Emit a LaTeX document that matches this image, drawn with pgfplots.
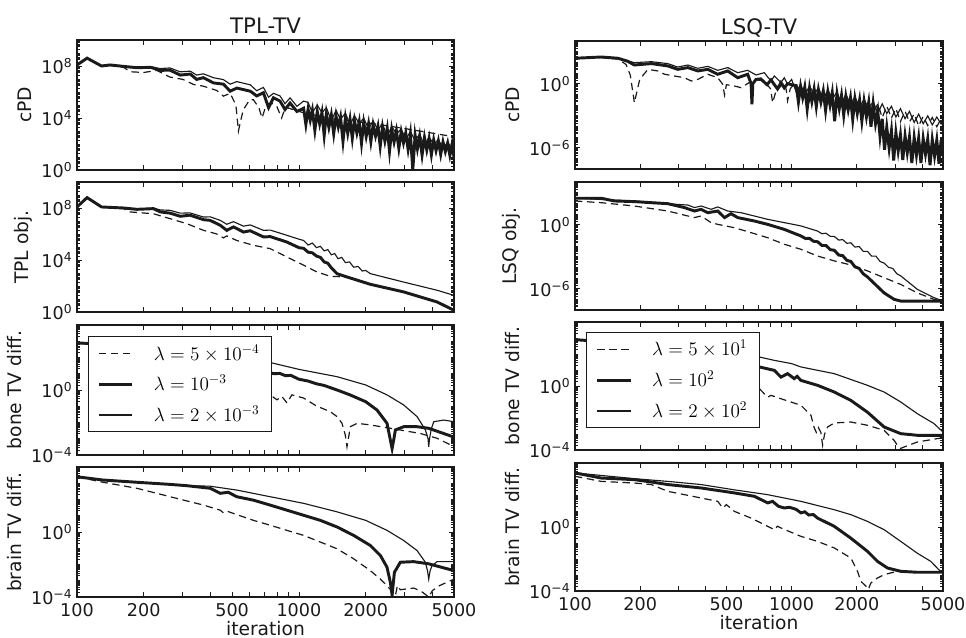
\documentclass[border=0pt]{standalone}
\usepackage{pgfplots}
\pgfplotsset{compat=1.18}
\usepackage{fontspec}
\setmainfont{DejaVu Sans}
\definecolor{ink}{HTML}{1A1A1A}
\newcommand{\tk}[1]{10\textsuperscript{#1}}
\def\minA{2,3,4,5,6,7,8,9,10,20,30,40,50,60,70,80,90,100,200,300,400,500,600,700,800,900,1000,2e3,3e3,4e3,5e3,6e3,7e3,8e3,9e3,1e4,2e4,3e4,4e4,5e4,6e4,7e4,8e4,9e4,1e5,2e5,3e5,4e5,5e5,6e5,7e5,8e5,9e5,1e6,2e6,3e6,4e6,5e6,6e6,7e6,8e6,9e6,1e7,2e7,3e7,4e7,5e7,6e7,7e7,8e7,9e7,1e8,2e8,3e8,4e8,5e8,6e8,7e8,8e8,9e8,1e9,2e9,3e9,4e9,5e9,6e9,7e9,8e9,9e9}
\def\minB{2e-4,3e-4,4e-4,5e-4,6e-4,7e-4,8e-4,9e-4,1e-3,2e-3,3e-3,4e-3,5e-3,6e-3,7e-3,8e-3,9e-3,1e-2,2e-2,3e-2,4e-2,5e-2,6e-2,7e-2,8e-2,9e-2,0.1,0.2,0.3,0.4,0.5,0.6,0.7,0.8,0.9,1,2,3,4,5,6,7,8,9,10,20,30,40,50,60,70,80,90,100,200,300,400,500,600,700,800,900,1000,2e3,3e3,4e3,5e3,6e3,7e3,8e3,9e3}
\def\minC{2e-8,3e-8,4e-8,5e-8,6e-8,7e-8,8e-8,9e-8,1e-7,2e-7,3e-7,4e-7,5e-7,6e-7,7e-7,8e-7,9e-7,1e-6,2e-6,3e-6,4e-6,5e-6,6e-6,7e-6,8e-6,9e-6,1e-5,2e-5,3e-5,4e-5,5e-5,6e-5,7e-5,8e-5,9e-5,1e-4,2e-4,3e-4,4e-4,5e-4,6e-4,7e-4,8e-4,9e-4,1e-3,2e-3,3e-3,4e-3,5e-3,6e-3,7e-3,8e-3,9e-3,1e-2,2e-2,3e-2,4e-2,5e-2,6e-2,7e-2,8e-2,9e-2,0.1,0.2,0.3,0.4,0.5,0.6,0.7,0.8,0.9,1,2,3,4,5,6,7,8,9,10,20,30,40,50,60,70,80,90,100,200,300,400,500,600,700,800,900,1000,2e3,3e3,4e3,5e3,6e3,7e3,8e3,9e3}
\pgfplotsset{
  mypanel/.style={
    scale only axis, anchor=south west,
    xmin=100, xmax=5000,
    xtick={100,200,300,400,500,600,700,800,900,1000,2000,3000,4000,5000},
    xticklabels={},
    tick align=inside,
    major tick length=4pt, minor tick length=2.2pt,
    axis line style={line width=1pt, draw=ink},
    every tick/.style={draw=ink, line width=0.6pt},
    tick label style={font=\fontsize{13.2}{15}\selectfont, text=ink},
    xticklabel style={yshift=-1.5pt},
    label style={font=\fontsize{14}{16}\selectfont, text=ink},
    xlabel style={yshift=4pt},
    title style={font=\fontsize{16}{18}\selectfont, text=ink, anchor=base, yshift=-1.5pt},
    legend cell align=left,
  },
  mylw/.style={width=282.75pt, height=97.5pt},
  myrw/.style={width=276pt, height=96pt},
  mybottom/.style={xticklabels={100,200,,,500,,,,,1000,2000,,,5000}, xlabel={iteration}},
  myya/.style={ymin=1, ymax=1e10, ytick={1,1e4,1e8}, yticklabels={\tk{0},\tk{4},\tk{8}}, minor ytick/.expand once=\minA},
  myyb/.style={ymin=1e-4, ymax=1e4, ytick={1e-4,1}, yticklabels={\tk{−4},\tk{0}}, minor ytick/.expand once=\minB},
  myyc/.style={ymin=1e-8, ymax=1e4, ytick={1e-6,1}, yticklabels={\tk{−6},\tk{0}}, minor ytick/.expand once=\minC},
  dsh/.style={ink, line width=0.9pt, dash pattern=on 5.5pt off 3.5pt},
  thk/.style={ink, line width=2.2pt},
  thn/.style={ink, line width=0.85pt},
}
\begin{document}
\begin{tikzpicture}
\useasboundingbox (0,0) rectangle (724.5pt,478.5pt);
% ---------------- Left column: TPL-TV ----------------
\begin{loglogaxis}[mypanel, mylw, myya, at={(57.75pt,351pt)}, title={TPL-TV}, ylabel={cPD}]
\addplot[dsh] coordinates {(100,1.2e8)(111,4e8)(129,1e8)(141,1.12e8)(162,7.9e7)(174,3.6e7)(200,3.16e7)(229,4.6e7)(262,1.41e7)(300,9.3e6)(335,3.8e6)(371,2.8e6)(426,1.32e6)(457,4.8e5)(490,7.9e5)(520,1e5)(534,1e3)(550,1e4)(562,4.4e4)(600,2.5e5)(624,2.5e5)(660,6.3e4)(682,1e4)(700,4e4)(717,1.26e5)(760,1.26e5)(795,7.9e4)(836,1e4)(860,4e4)(882,6.3e4)(1050,2.5e4)(1480,7.4e3)(2090,4e3)(2970,1.58e3)(5000,3.6e2)};
\addplot[thk] coordinates {(100,1.2e8)(111,4e8)(129,1e8)(141,1.2e8)(162,9.3e7)(186,7.4e7)(215,7.9e7)(237,4.6e7)(262,4.8e7)(292,2e7)(324,2.4e7)(346,9.3e6)(371,1.26e7)(412,5e6)(457,4e6)(490,1.15e6)(525,2e6)(604,1.15e6)(645,5e5)(692,8.7e5)(730,6.3e4)(768,3.55e5)(822,2e5)(866,4.5e4)(912,1.41e5)(980,3.16e4)(1050,5.6e4)(1075,3.2e3)(1100,4.7e4)(1125,6.8e3)(1150,3.9e4)(1180,1.12e3)(1210,3.16e4)(1240,3.55e3)(1270,2.57e4)(1300,4.7e2)(1330,2.1e4)(1365,1.9e3)(1400,1.7e4)(1435,6.2e2)(1470,1.41e4)(1505,2e3)(1540,1.15e4)(1580,1.62e2)(1620,9.3e3)(1660,6.8e2)(1700,7.8e3)(1740,2.8e2)(1780,6.3e3)(1825,7.1e2)(1870,5.1e3)(1915,1.17e2)(1960,4.3e3)(2010,3.8e2)(2060,3.5e3)(2110,1.58e2)(2160,2.9e3)(2215,4.1e2)(2270,2.3e3)(2325,66)(2380,1.9e3)(2440,1.7e2)(2500,1.55e3)(2560,28)(2620,1.29e3)(2685,1.45e2)(2750,1.05e3)(2820,47)(2890,8.5e2)(2960,1.23e2)(3030,7.1e2)(3105,40)(3180,5.8e2)(3260,1.05)(3340,4.7e2)(3420,43)(3500,3.9e2)(3590,14)(3680,3.16e2)(3770,35)(3860,2.57e2)(3955,15)(4050,2.1e2)(4150,31)(4250,1.74e2)(4355,16)(4460,1.45e2)(4570,26)(4680,1.17e2)(4790,13.5)(4900,98)(4950,30)(5000,89)};
\addplot[thn] coordinates {(100,1.2e8)(111,4e8)(129,1e8)(141,1.2e8)(162,9.3e7)(186,7.4e7)(215,8.9e7)(237,6.3e7)(262,7.1e7)(292,3.55e7)(324,4e7)(346,2e7)(371,2.5e7)(412,1.26e7)(457,8.9e6)(490,4e6)(525,6.3e6)(604,3.55e6)(645,1.26e6)(692,2.24e6)(730,4e5)(768,7.9e5)(822,5e5)(866,1.26e5)(912,3.55e5)(980,7.9e4)(1050,2e5)(1100,1.58e5)(1150,2.57e4)(1210,1e5)(1270,2.5e4)(1330,6.3e4)(1400,6.2e3)(1470,3.9e4)(1540,7.8e3)(1620,2.4e4)(1700,3e3)(1780,1.5e4)(1870,3.8e3)(1960,9.5e3)(2060,1.48e3)(2160,6e3)(2270,1.17e3)(2380,3.7e3)(2500,3.7e2)(2620,2.3e3)(2750,5.8e2)(2890,1.45e3)(3030,2.3e2)(3180,9.1e2)(3340,1.78e2)(3500,5.8e2)(3680,71)(3860,3.55e2)(4050,89)(4250,2.2e2)(4460,44)(4680,1.38e2)(4900,44)(5000,1e2)};
\end{loglogaxis}
\begin{loglogaxis}[mypanel, mylw, myya, at={(57.75pt,244.5pt)}, ylabel={TPL obj.}]
\addplot[dsh] coordinates {(100,1.2e8)(111,6.3e8)(129,1.2e8)(162,8.9e7)(173,5e7)(221,3.6e7)(263,1.5e7)(312,6.3e6)(372,1.9e6)(427,1e6)(457,5e5)(473,7.1e5)(525,3.16e5)(624,1.35e5)(743,7.4e4)(883,1.7e4)(1050,4e3)(1205,1.2e3)(1384,5.6e2)(1650,4.9e2)(2098,1.35e2)(2966,35)(4195,5.9)(5000,1.35)};
\addplot[thk] coordinates {(100,1.2e8)(111,6.3e8)(129,1.2e8)(162,1e8)(186,7.9e7)(221,8.9e7)(237,5e7)(263,4e7)(292,2.3e7)(323,2.8e7)(372,1.26e7)(398,1.12e7)(442,4.7e6)(473,1.9e6)(507,3.5e6)(563,1.41e6)(603,1.78e6)(693,5.9e5)(743,6.3e5)(883,2.4e5)(1000,8.9e4)(1050,7.9e4)(1100,4e4)(1150,3.55e4)(1200,2e4)(1250,1.58e4)(1300,7.1e3)(1350,5.6e3)(1400,2.5e3)(1485,8.9e2)(1650,4.9e2)(2098,1.35e2)(2966,35)(4195,5.9)(5000,1.35)};
\addplot[thn] coordinates {(100,1.2e8)(111,6.3e8)(129,1.2e8)(162,1e8)(186,7.9e7)(221,1e8)(237,7.1e7)(263,6.6e7)(292,4e7)(323,4.2e7)(372,2e7)(398,2.1e7)(442,1.12e7)(473,5.6e6)(507,8.9e6)(563,4e6)(603,5e6)(693,1.9e6)(743,2e6)(883,7.9e5)(1000,4e5)(1050,3.16e5)(1100,1.41e5)(1150,2e5)(1200,8.9e4)(1250,1.12e5)(1300,5e4)(1350,6.3e4)(1400,2.5e4)(1450,3.16e4)(1500,1.26e4)(1560,1.58e4)(1620,6.3e3)(1690,7.1e3)(1765,2.8e3)(1850,3.16e3)(1930,1.41e3)(2000,1.58e3)(2098,8.9e2)(2966,2e2)(4195,47)(5000,19)};
\end{loglogaxis}
\begin{loglogaxis}[mypanel, mylw, myyb, at={(57.75pt,137.25pt)}, ylabel={bone TV diff.},
  legend style={at={(0.029,0.915)}, anchor=north west, draw=ink, line width=0.6pt, fill=white,
    font=\fontsize{14.5}{17}\selectfont, inner xsep=7pt, inner ysep=4pt, row sep=6pt,
    /tikz/every odd column/.append style={column sep=13pt}},
  legend image code/.code={\draw[#1] (0pt,0pt) -- (25pt,0pt);}]
\addplot[dsh] coordinates {(100,7.9e2)(200,2e2)(300,40)(400,10)(500,3.16)(600,1.26)(717,0.63)(743,0.5)(796,0.25)(838,0.4)(883,0.16)(930,0.5)(1050,0.32)(1205,0.1)(1384,4.7e-2)(1485,2.3e-2)(1564,8.9e-3)(1618,1.7e-3)(1647,3.16e-4)(1680,1.58e-3)(1705,5.5e-3)(1828,8.9e-3)(2098,7.1e-3)(2583,4.4e-3)(3530,2.1e-3)(4195,1.07e-3)(4818,4.2e-4)(5000,3.16e-4)};
\addlegendentry{$\lambda=5\times10^{-4}$}
\addplot[thk] coordinates {(100,7.9e2)(200,5e2)(300,2.5e2)(400,1e2)(500,50)(600,25)(717,13.5)(770,10)(820,10.5)(870,7.6)(920,7.9)(1000,4.6)(1100,3.55)(1200,2.4)(1300,1.9)(1485,1)(1700,0.5)(2000,0.19)(2248,5.9e-2)(2495,8.9e-3)(2583,8.3e-4)(2630,2.5e-4)(2680,1e-3)(2722,3.5e-3)(2966,5.5e-3)(3408,5.5e-3)(3846,4.4e-3)(5000,1.26e-3)};
\addlegendentry{$\lambda=10^{-3}$}
\addplot[thn] coordinates {(100,7.9e2)(200,6.3e2)(300,4e2)(400,2.5e2)(500,1.58e2)(600,1e2)(717,55)(1000,18.6)(1485,6.6)(2000,2.04)(2495,0.5)(2966,0.12)(3408,2.3e-2)(3715,3.5e-3)(3820,1e-3)(3846,3.16e-4)(3880,1e-3)(3950,4e-3)(4053,1.12e-2)(4495,1.41e-2)(5000,1.12e-2)};
\addlegendentry{$\lambda=2\times10^{-3}$}
\end{loglogaxis}
\begin{loglogaxis}[mypanel, mylw, myyb, mybottom, at={(57.75pt,30.75pt)}, ylabel={brain TV diff.}]
\addplot[dsh] coordinates {(100,2.5e3)(131,1.15e3)(186,4.9e2)(263,1.48e2)(372,45)(442,22)(455,15.8)(470,20)(525,11.7)(624,5.2)(743,2.6)(883,1.26)(1050,0.62)(1250,0.24)(1485,9.3e-2)(1765,2.24e-2)(2098,4.2e-3)(2330,1.26e-3)(2495,5e-4)(2722,1.26e-4)(2780,5e-4)(2865,2.8e-4)(3077,3.16e-4)(3300,3.55e-4)(3600,2e-4)(3846,1e-4)(4000,2.5e-4)(4300,5e-4)(5000,1.26e-3)};
\addplot[thk] coordinates {(100,2.5e3)(131,1.58e3)(186,1.15e3)(263,8.5e2)(312,7.1e2)(398,4.9e2)(442,2.4e2)(480,2.8e2)(525,1.48e2)(624,91)(743,45)(883,22)(1050,10.7)(1250,5.2)(1485,2.04)(1765,0.62)(2098,0.148)(2330,3.55e-2)(2495,6.8e-3)(2583,7.9e-4)(2630,1.32e-4)(2694,3.3e-3)(2865,1.38e-2)(3288,1.5e-2)(3846,1.1e-2)(5000,4.2e-3)};
\addplot[thn] coordinates {(100,2.5e3)(131,1.58e3)(186,1.15e3)(263,8.5e2)(312,7.1e2)(398,6.6e2)(525,3.8e2)(743,1.48e2)(1050,58)(1485,17.4)(2000,5.2)(2495,1.26)(2966,0.3)(3408,7.2e-2)(3715,1.38e-2)(3800,4e-3)(3846,1.26e-3)(3900,4e-3)(3980,8.5e-3)(4195,1.5e-2)(5000,1.5e-2)};
\end{loglogaxis}
% ---------------- Right column: LSQ-TV ----------------
\begin{loglogaxis}[mypanel, myrw, myyc, at={(431.25pt,351.75pt)}, title={LSQ-TV}, ylabel={cPD}]
\addplot[dsh] coordinates {(100,2.4e2)(132,2.8e2)(158,2e2)(172,63)(180,6.3)(188,1.66e-2)(199,2.5)(217,22)(241,15.5)(259,7.6)(288,5.2)(320,3.6)(344,1.78)(369,2.5)(410,7.6)(456,3.6)(481,0.87)(490,8.7e-2)(500,0.8)(544,0.6)(584,0.42)(673,2.5)(748,1.78)(800,0.32)(817,1.66e-2)(847,0.2)(925,1.26)(945,0.25)(958,2.5e-2)(985,0.32)(1000,0.5)(1050,0.83)(1100,6.9e-2)(1150,0.575)(1210,2.3e-2)(1270,0.39)(1330,4.1e-2)(1400,0.26)(1470,1.35e-2)(1540,0.174)(1620,1.66e-2)(1700,0.102)(1780,4e-3)(1870,6.2e-2)(1960,4.8e-3)(2060,3.6e-2)(2160,1.78e-3)(2270,2.2e-2)(2380,1.7e-3)(2500,1.32e-2)(2620,6.5e-4)(2750,7.9e-3)(2890,6e-4)(3030,4.7e-3)(3180,2.8e-4)(3340,2.6e-3)(3500,2.5e-4)(3680,1.48e-3)(3860,1.1e-4)(4050,8.7e-4)(4250,1.2e-4)(4460,6.8e-4)(4680,9.3e-5)(4900,5.2e-4)(5000,5e-4)};
\addplot[thk] coordinates {(100,2.4e2)(132,3.16e2)(158,2.4e2)(175,1.26e2)(188,56)(225,76)(268,46)(298,22)(332,32)(369,15.5)(410,22)(456,7.6)(507,15.5)(564,3.6)(627,7.6)(650,1)(656,1.15e-2)(662,1)(685,2.5)(720,2.8)(770,0.8)(803,2.24)(861,0.32)(893,1.26)(925,0.4)(958,1)(1000,0.8)(1050,0.66)(1075,1.9e-2)(1100,0.55)(1125,5e-2)(1150,0.46)(1180,4.2e-3)(1210,0.37)(1240,2.1e-2)(1270,0.31)(1300,7.1e-3)(1330,0.26)(1365,1.86e-2)(1400,0.21)(1435,3e-3)(1470,0.17)(1505,9.8e-3)(1540,0.138)(1580,3e-4)(1620,0.105)(1660,4.7e-3)(1700,8.1e-2)(1740,1.15e-3)(1780,6.3e-2)(1825,3.55e-3)(1870,4.9e-2)(1915,4.4e-4)(1960,3.8e-2)(2010,1.66e-3)(2060,2.9e-2)(2110,3.16e-4)(2160,2.24e-2)(2215,7.9e-4)(2270,1.74e-2)(2325,9.3e-5)(2380,1.26e-2)(2440,1.78e-4)(2500,2.5e-3)(2560,1.12e-5)(2620,5e-4)(2685,6.3e-7)(2750,7.9e-5)(2820,8.9e-7)(2890,4e-5)(2960,6.3e-8)(3030,2.5e-5)(3105,5e-7)(3180,1.58e-5)(3260,7.1e-8)(3340,1.26e-5)(3420,3.55e-7)(3500,1e-5)(3590,3.7e-8)(3680,8.9e-6)(3770,2.1e-7)(3860,7.9e-6)(3955,3.7e-8)(4050,7.1e-6)(4150,2.6e-7)(4250,6.3e-6)(4355,2.3e-8)(4460,5.6e-6)(4570,1.66e-7)(4680,5e-6)(4790,3.16e-8)(4900,5e-6)(4950,2e-7)(5000,5e-6)};
\addplot[thn] coordinates {(100,2.4e2)(132,3.16e2)(158,2.4e2)(175,1.41e2)(188,93)(225,1.15e2)(268,76)(298,36)(332,56)(369,27.5)(410,42)(456,17.8)(507,32)(564,10.7)(627,17.8)(685,6.5)(748,10.7)(803,1.78)(832,5.2)(893,1.26)(925,3.6)(958,0.87)(1000,2.5)(1050,0.166)(1100,0.87)(1150,9.1e-2)(1210,0.59)(1270,9.8e-2)(1330,0.41)(1400,3.3e-2)(1470,0.27)(1540,3.5e-2)(1620,0.166)(1700,1.29e-2)(1780,0.1)(1870,1.23e-2)(1960,6e-2)(2060,5.8e-3)(2160,3.55e-2)(2270,4.4e-3)(2380,2.1e-2)(2500,1.66e-3)(2620,1.29e-2)(2750,1.58e-3)(2890,7.6e-3)(3030,7.4e-4)(3180,4.5e-3)(3340,5.2e-4)(3500,2.5e-3)(3680,2.3e-4)(3860,1.38e-3)(4050,1.74e-4)(4250,9.5e-4)(4460,1.35e-4)(4680,7.4e-4)(4900,1.66e-4)(5000,6.3e-4)};
\end{loglogaxis}
\begin{loglogaxis}[mypanel, myrw, myyc, at={(431.25pt,246pt)}, ylabel={LSQ obj.}]
\addplot[dsh] coordinates {(100,1.66e2)(132,1.15e2)(188,56)(268,19)(356,4.6)(382,6.5)(425,1.55)(456,1.07)(544,0.52)(650,0.178)(775,6e-2)(925,1.45e-2)(1104,4.9e-3)(1318,1.15e-3)(1574,4e-4)(1877,1.66e-4)(2240,4.6e-5)(2673,1.07e-5)(3190,2.5e-6)(3805,4e-7)(4540,1e-7)(5000,6.9e-8)};
\addplot[thk] coordinates {(100,3e2)(132,3e2)(152,1.66e2)(188,1.45e2)(225,1.15e2)(268,93)(298,56)(320,40)(356,19)(382,27.5)(410,13.2)(456,19)(490,4.6)(525,10.7)(564,4.6)(673,2.2)(775,1.07)(925,0.36)(1104,8.7e-2)(1160,5e-2)(1210,5.2e-2)(1260,2.8e-2)(1318,2.5e-2)(1380,1.12e-2)(1440,1.12e-2)(1510,4.5e-3)(1574,4e-3)(1650,1.41e-3)(1720,1.26e-3)(1800,4.5e-4)(1877,3.55e-4)(1960,1.12e-4)(2050,7.9e-5)(2140,2.5e-5)(2240,1.26e-5)(2673,4e-7)(2973,1e-7)(3190,6.9e-8)(5000,6.9e-8)};
\addplot[thn] coordinates {(100,3e2)(188,1.66e2)(298,79)(332,69)(356,40)(382,56)(425,27.5)(456,46)(507,19)(584,13.2)(673,6.5)(775,3.16)(925,1.55)(1104,0.76)(1318,0.25)(1380,0.141)(1440,0.158)(1510,7.9e-2)(1574,7.9e-2)(1650,3.55e-2)(1720,4e-2)(1800,1.78e-2)(1877,2e-2)(1960,7.9e-3)(2050,8.9e-3)(2140,3.16e-3)(2240,3.16e-3)(2340,1.12e-3)(2450,1.12e-3)(2560,3.55e-4)(2673,2.5e-4)(2800,1e-4)(2930,7.9e-5)(3060,2.5e-5)(3190,1.58e-5)(3805,8.7e-7)(4540,1.45e-7)(5000,6.9e-8)};
\end{loglogaxis}
\begin{loglogaxis}[mypanel, myrw, myyb, at={(431.25pt,141pt)}, ylabel={bone TV diff.},
  legend style={at={(0.030,0.922)}, anchor=north west, draw=ink, line width=0.6pt, fill=white,
    font=\fontsize{14.5}{17}\selectfont, inner xsep=7pt, inner ysep=4pt, row sep=6pt,
    /tikz/every odd column/.append style={column sep=13pt}},
  legend image code/.code={\draw[#1] (0pt,0pt) -- (25pt,0pt);}]
\addplot[dsh] coordinates {(100,7.9e2)(200,2e2)(300,50)(400,12.6)(500,4)(600,1.58)(710,0.68)(775,0.2)(803,0.26)(893,0.16)(1104,6.2e-2)(1228,1.48e-2)(1271,2.5e-3)(1300,1.26e-3)(1330,2.5e-3)(1365,1.26e-3)(1390,2e-4)(1420,1e-3)(1466,2.75e-3)(1574,4.9e-3)(1877,5.6e-3)(2240,3.5e-3)(2673,1.7e-3)(2973,4e-4)(3077,2e-4)(3190,1.26e-4)(3400,1.78e-4)(3805,3.16e-4)(5000,5.9e-4)};
\addlegendentry{$\lambda=5\times10^{1}$}
\addplot[thk] coordinates {(100,7.9e2)(200,4e2)(300,2e2)(400,1e2)(500,50)(600,25)(710,15.5)(832,9.5)(893,3.6)(958,5.9)(1028,2.9)(1060,4)(1104,2.24)(1318,1.1)(1574,0.42)(1877,0.126)(2240,2.3e-2)(2673,2.75e-3)(3190,1.05e-3)(3805,8.3e-4)(5000,8.3e-4)};
\addlegendentry{$\lambda=10^{2}$}
\addplot[thn] coordinates {(100,7.9e2)(200,5e2)(300,3.16e2)(400,2e2)(500,1.26e2)(600,89)(710,65)(832,40)(1000,25)(1104,15.5)(1574,5.9)(2240,1.1)(2673,0.42)(3190,0.1)(3805,1.86e-2)(4540,4.5e-3)(5000,1.32e-3)};
\addlegendentry{$\lambda=2\times10^{2}$}
\end{loglogaxis}
\begin{loglogaxis}[mypanel, myrw, myyb, mybottom, at={(431.25pt,35.25pt)}, ylabel={brain TV diff.}]
\addplot[dsh] coordinates {(100,1.48e3)(132,7.1e2)(188,5.6e2)(225,4.5e2)(268,1.7e2)(382,65)(456,40)(481,15.5)(500,25)(544,9.5)(650,3.6)(775,1.1)(832,0.68)(861,1.12)(893,0.87)(1104,0.26)(1318,0.126)(1574,4.9e-2)(1877,1.15e-2)(2014,1.7e-3)(2089,4e-4)(2203,2e-4)(2260,1.26e-4)(2322,3.16e-4)(2491,6.5e-4)(2673,1.05e-3)(3077,1.7e-3)(5000,1.48e-3)};
\addplot[thk] coordinates {(100,2.4e3)(132,1.15e3)(188,9.1e2)(225,6.5e2)(268,4.5e2)(382,2.75e2)(544,1.35e2)(673,83)(775,32)(817,40)(870,19.5)(925,15.5)(980,17)(1050,12.6)(1104,7.6)(1150,8.9)(1200,5.6)(1260,6)(1318,3.6)(1574,1.1)(1877,0.2)(2240,3e-2)(2491,7.1e-3)(2767,2.75e-3)(3190,1.7e-3)(3805,1.48e-3)(5000,1.48e-3)};
\addplot[thn] coordinates {(100,2.4e3)(188,1.05e3)(268,7.1e2)(382,4.5e2)(544,2.1e2)(775,1.05e2)(1104,40)(1574,12)(1877,5.9)(2240,2.24)(2673,0.68)(3190,0.126)(3805,2.3e-2)(4389,7.1e-3)(4790,2.1e-3)(5000,1.32e-3)};
\end{loglogaxis}
\end{tikzpicture}
\end{document}
